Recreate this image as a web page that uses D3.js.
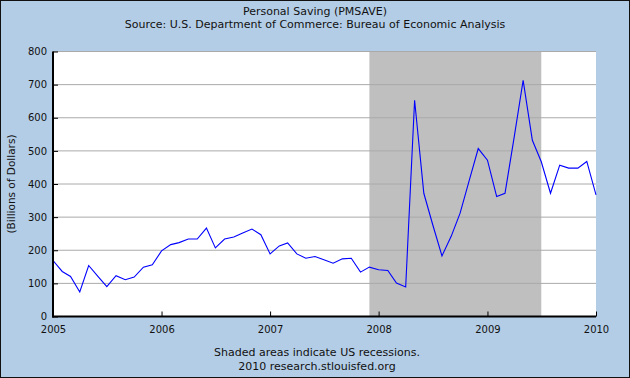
<!DOCTYPE html>
<html>
<head>
<meta charset="utf-8">
<script src="https://cdn.jsdelivr.net/npm/d3@7"></script>
<style>
  body { margin: 0; }
  svg { display: block; }
  text { font-family: "DejaVu Sans", Verdana, sans-serif; font-size: 11px; fill: #111; }
</style>
</head>
<body>
<div id="chart"></div>
<script>
// monthly personal saving, billions of dollars, Jan 2005 .. Jan 2010
var values = [
  169, 136, 121, 74, 154, 121, 90, 123, 111, 119, 149, 156,
  198, 217, 223, 234, 234, 267, 207, 234, 240, 252, 264, 247,
  189, 213, 222, 189, 176, 181, 171, 161, 174, 176, 134, 149,
  141, 139, 101, 89, 653, 372, 277, 183, 242, 312, 412, 507,
  472, 362, 372, 542, 713, 532, 467, 372, 457, 448, 448, 468,
  367
];
var startMonth = new Date(2005, 0, 1);
var yTicks = [0, 100, 200, 300, 400, 500, 600, 700, 800];
var xTickYears = [2005, 2006, 2007, 2008, 2009, 2010];
var recessions = [[new Date(2007, 11, 1), new Date(2009, 6, 1)]];

var titleLines = ["Personal Saving (PMSAVE)", "Source: U.S. Department of Commerce: Bureau of Economic Analysis"];
var footLines = ["Shaded areas indicate US recessions.", "2010 research.stlouisfed.org"];
var yLabel = "(Billions of Dollars)";

var W = 630, H = 378;
var margin = {top: 51.5, right: 34, bottom: 61.5, left: 53};

var data = values.map(function(v, i) {
    return {date: d3.timeMonth.offset(startMonth, i), value: v};
});

var svg = d3.select("#chart").append("svg")
        .attr("width", W)
        .attr("height", H);

svg.append("rect")
    .attr("x", 0.5).attr("y", 0.5)
    .attr("width", W - 1).attr("height", H - 1)
    .attr("fill", "#b4cde6")
    .attr("stroke", "#111");

var x = d3.scaleTime()
        .domain([new Date(2005, 0, 1), new Date(2010, 0, 1)])
        .range([margin.left, W - margin.right]);

var y = d3.scaleLinear()
        .domain([0, 800])
        .range([H - margin.bottom, margin.top]);

// plot background
svg.append("rect")
    .attr("x", x.range()[0]).attr("y", y(800))
    .attr("width", x.range()[1] - x.range()[0])
    .attr("height", y(0) - y(800))
    .attr("fill", "#fff");

// recession shading
svg.selectAll("rect.rec").data(recessions).enter().append("rect")
    .attr("class", "rec")
    .attr("x", function(d) { return x(d[0]); })
    .attr("y", y(800))
    .attr("width", function(d) { return x(d[1]) - x(d[0]); })
    .attr("height", y(0) - y(800))
    .attr("fill", "#bfbfbf");

// grid
svg.append("g")
    .selectAll("line").data(yTicks.slice(1)).enter().append("line")
    .attr("x1", x.range()[0]).attr("x2", x.range()[1])
    .attr("y1", function(d) { return y(d); })
    .attr("y2", function(d) { return y(d); })
    .attr("stroke", "#aaa");

// series
var line = d3.line()
        .x(function(d) { return x(d.date); })
        .y(function(d) { return y(d.value); });

svg.append("path")
    .datum(data)
    .attr("d", line)
    .attr("fill", "none")
    .attr("stroke", "#0000ff")
    .attr("stroke-width", 1.1);

// y axis
var yAxis = d3.axisLeft(y).tickValues(yTicks).tickSize(-5).tickPadding(6);
var gy = svg.append("g")
    .attr("transform", "translate(" + margin.left + ",0)")
    .call(yAxis);
gy.select(".domain").remove();
gy.selectAll("line").attr("stroke", "#000");
gy.selectAll("text").style("font-size", "10px").attr("fill", "#111");

// x axis
var xAxis = d3.axisBottom(x)
        .tickValues(xTickYears.map(function(yr) { return new Date(yr, 0, 1); }))
        .tickFormat(d3.timeFormat("%Y"))
        .tickSize(-5).tickPadding(9);
var gx = svg.append("g")
    .attr("transform", "translate(0," + (H - margin.bottom) + ")")
    .call(xAxis);
gx.select(".domain").remove();
gx.selectAll("line").attr("stroke", "#000");
gx.selectAll("text").style("font-size", "10px").attr("fill", "#111");

// axis lines
svg.append("line")
    .attr("x1", x.range()[0]).attr("x2", x.range()[0])
    .attr("y1", y(800)).attr("y2", y(0) + 1)
    .attr("stroke", "#000").attr("stroke-width", 2);
svg.append("line")
    .attr("x1", x.range()[0] - 1).attr("x2", x.range()[1])
    .attr("y1", y(0)).attr("y2", y(0))
    .attr("stroke", "#000").attr("stroke-width", 2);

// titles
svg.selectAll("text.title").data(titleLines).enter().append("text")
    .attr("class", "title")
    .attr("x", W / 2)
    .attr("y", function(d, i) { return 15 + i * 13; })
    .attr("text-anchor", "middle")
    .text(function(d) { return d; });

svg.selectAll("text.foot").data(footLines).enter().append("text")
    .attr("class", "foot")
    .attr("x", W / 2 + 2)
    .attr("y", function(d, i) { return 356 + i * 14; })
    .attr("text-anchor", "middle")
    .text(function(d) { return d; });

svg.append("text")
    .attr("transform", "translate(15," + ((y(0) + y(800)) / 2) + ") rotate(-90)")
    .attr("text-anchor", "middle")
    .style("font-size", "10.5px")
    .text(yLabel);
</script>
</body>
</html>
